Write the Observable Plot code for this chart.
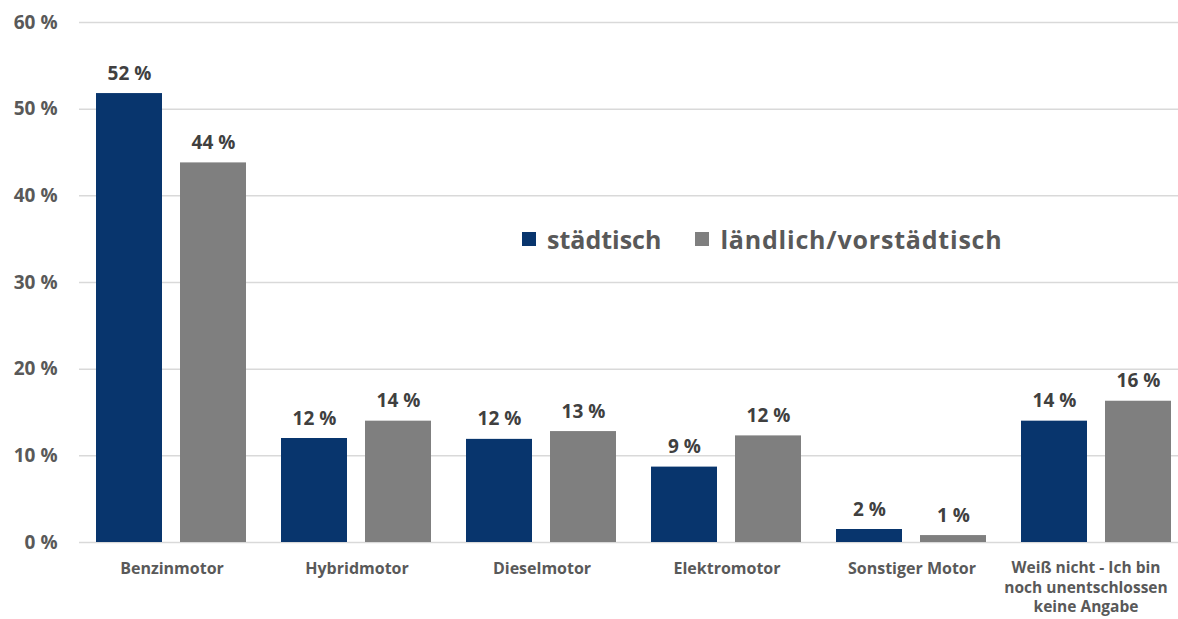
<!DOCTYPE html>
<html>
<head>
<meta charset="utf-8">
<script src="https://cdn.jsdelivr.net/npm/d3@7"></script>
<script src="https://cdn.jsdelivr.net/npm/@observablehq/plot@0.6"></script>
<style>
  html, body { margin: 0; padding: 0; background: #fff; overflow: hidden; }
  #wrap { position: relative; width: 1178px; height: 619px; overflow: hidden; font-family: "Open Sans", sans-serif; }
  #legend { position: absolute; left: 522px; top: 222px; display: flex; align-items: center; font-weight: 700; font-size: 25px; color: #595959; }
  #legend .item { display: flex; align-items: center; margin-right: 34px; }
  #legend .item:last-child span:last-child { letter-spacing: 0.8px; }
  #legend .sw { width: 14px; height: 14px; margin-right: 11px; }
</style>
</head>
<body>
<div id="wrap"><div id="legend"></div></div>
<script>
const categories = ["Benzinmotor", "Hybridmotor", "Dieselmotor", "Elektromotor", "Sonstiger Motor", "Weiß nicht - Ich bin\nnoch unentschlossen\nkeine Angabe"];
const seriesNames = ["städtisch", "ländlich/vorstädtisch"];
const staedtisch = [51.8, 12.0, 11.9, 8.7, 1.5, 14.0];
const laendlich = [43.8, 14.0, 12.8, 12.3, 0.8, 16.3];
const staedtischLabels = ["52 %", "12 %", "12 %", "9 %", "2 %", "14 %"];
const laendlichLabels = ["44 %", "14 %", "13 %", "12 %", "1 %", "16 %"];
const yTicks = [0, 10, 20, 30, 40, 50, 60];
const colors = ["#08356D", "#7F7F7F"];

const data = [];
categories.forEach((c, i) => {
  data.push({category: c, series: seriesNames[0], value: staedtisch[i], label: staedtischLabels[i]});
  data.push({category: c, series: seriesNames[1], value: laendlich[i], label: laendlichLabels[i]});
});

const chart = Plot.plot({
  width: 1178,
  height: 619,
  marginLeft: 78,
  marginRight: -12,
  marginTop: 22,
  marginBottom: 77,
  style: {fontFamily: "Open Sans, sans-serif", background: "#fff", overflow: "hidden"},
  fx: {domain: categories, padding: 0, label: null},
  x: {domain: seriesNames, paddingInner: 0.212, paddingOuter: 0.197, axis: null},
  y: {domain: [0, 60], ticks: yTicks, label: null},
  color: {domain: seriesNames, range: colors},
  marks: [
    Plot.gridY(yTicks, {stroke: "#D9D9D9", strokeOpacity: 1, strokeWidth: 1.5}),
    Plot.barY(data, {fx: "category", x: "series", y: "value", fill: "series"}),
    Plot.text(data, {fx: "category", x: "series", y: "value", text: "label", dy: -20, fontSize: 19, fontWeight: 700, fill: "#404040"}),
    Plot.axisY(yTicks, {tickSize: 0, tickPadding: 22, tickFormat: d => `${d} %`, fontSize: 19, fontWeight: 700, fill: "#595959", label: null}),
    Plot.axisFx({anchor: "bottom", tickSize: 0, tickPadding: 17, fontSize: 16, fontWeight: 700, fill: "#595959", label: null, lineHeight: 1.25, textOverflow: null, lineWidth: Infinity})
  ]
});
document.getElementById("wrap").prepend(chart);

// Nudge the long last category label left so it stays inside the frame (as in the reference)
chart.querySelectorAll("text").forEach(t => {
  if (t.textContent.startsWith("Weiß")) {
    const tr = t.getAttribute("transform") || "";
    t.setAttribute("transform", tr + " translate(-11,0)");
    t.setAttribute("font-size", "15.5");
  }
});

const legend = document.getElementById("legend");
seriesNames.forEach((s, i) => {
  const item = document.createElement("div");
  item.className = "item";
  const sw = document.createElement("span");
  sw.className = "sw";
  sw.style.background = colors[i];
  const t = document.createElement("span");
  t.textContent = s;
  item.append(sw, t);
  legend.append(item);
});
</script>
</body>
</html>
